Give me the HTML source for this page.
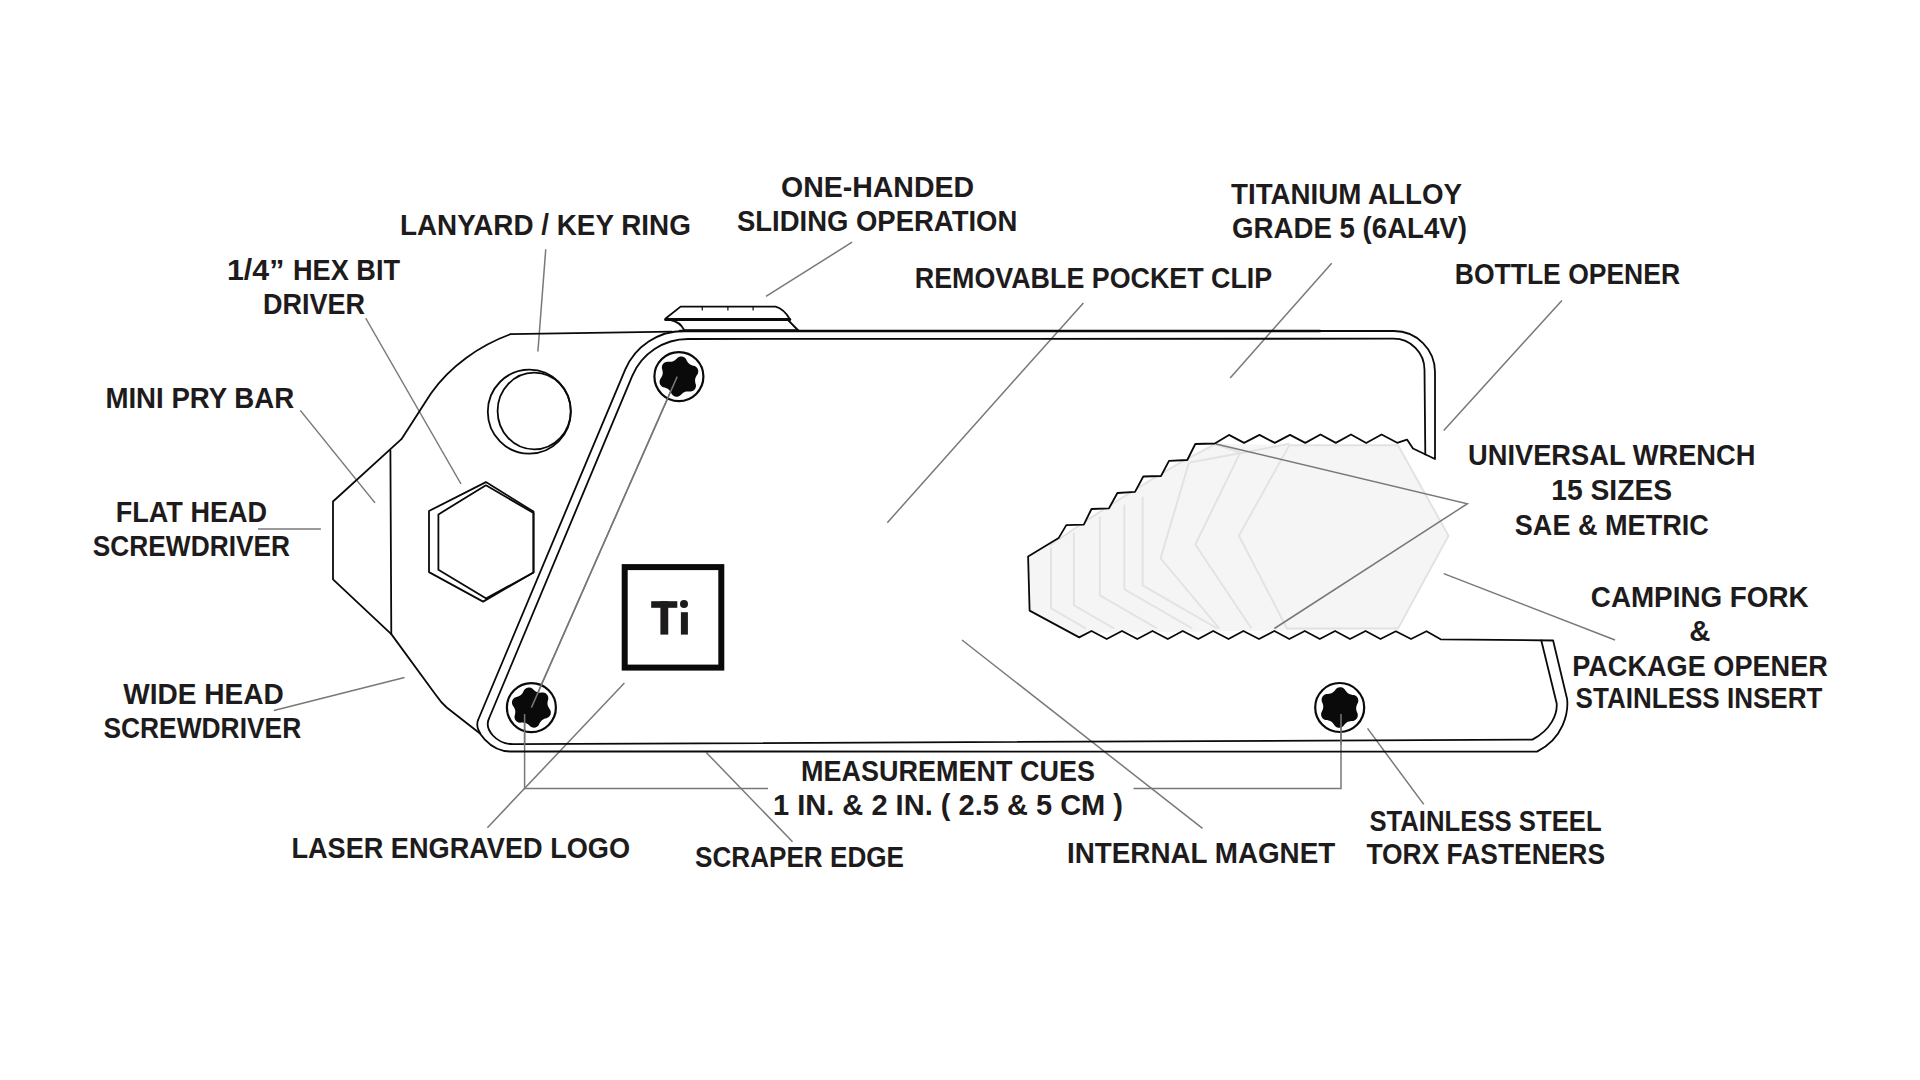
<!DOCTYPE html>
<html><head><meta charset="utf-8"><style>
html,body{margin:0;padding:0;background:#fff;width:1920px;height:1080px;overflow:hidden}
svg{display:block}
</style></head><body>
<svg width="1920" height="1080" viewBox="0 0 1920 1080">
<rect width="1920" height="1080" fill="#fff"/>
<defs><clipPath id="wc"><polygon points="1028.1,556.4 1058.6,538.1 1066.3,525.1 1083.8,524.6 1091.5,509 1109,508.3 1117.4,493 1135,491.9 1143.3,476.5 1161,476 1169,460.8 1187.3,460 1195.3,444 1214.8,443.5 1229,434.9 1244.1,442.9 1259.5,434.9 1274.8,442.9 1290,434.9 1305.3,442.9 1320.5,434.5 1335.8,442.9 1351,434.5 1366.2,443 1381.6,434.5 1397.2,442.8 1407,439.6 1413,448.5 1470,448.5 1470,639.3 1440.6,639.3 1426.5,631.2 1411,639 1395.8,631.3 1380.5,639 1365.6,631 1350,639 1335.1,631 1319.8,639 1304.8,631 1289.3,639 1274.4,631 1259,639 1243.4,631 1228.5,639 1213.2,631 1198.3,639 1182.7,631 1167.8,639 1152.5,631 1137.3,639 1122,631 1106.7,639 1091.5,631 1079.2,637.4 1029.6,610.6"/></clipPath></defs>
<g clip-path="url(#wc)">
<polygon points="1028.1,556.4 1049.4,545.7 1085,521.5 1120.8,498.5 1150,480.5 1180.4,462.5 1215.6,443.6 1289.3,445.2 1398,445.2 1448.5,535.7 1398,628.5 1300,630 1090,633 1079.2,637.4 1029.6,610.6" fill="#f5f5f5"/>
<g fill="none" stroke="#e2e2e2" stroke-width="1.9" stroke-linejoin="round">
<polyline points="1049.4,545.7 1085,521.5 1120.8,498.5 1150,480.5 1180.4,462.5 1215.6,443.8"/><polyline points="1051,547.2 1051,608.3 1086,628.5"/><polyline points="1073.9,532.7 1073.9,605.3 1114.1,628.5"/><polyline points="1099.9,516.7 1099.9,595.4 1157.3,628.5"/><polyline points="1124.3,504.4 1124.3,589.2 1192.4,628.5"/><polyline points="1142.6,496.8 1142.6,585.4 1217.3,628.5"/><polyline points="1189,462.6 1160.6,558.3 1219.4,628.5"/><polyline points="1240,453.2 1195.3,544.5 1251.5,628.5"/><polyline points="1189,462.6 1240,453.2 1289.3,443.8"/><polyline points="1214.4,444 1240,452.5"/>
<polygon points="1289.3,445.2 1398,445.2 1448.5,535.7 1398,628.5 1287,628.5 1238.9,535.7"/>
</g></g>
<g fill="none" stroke="#787878" stroke-width="1.5">
<polyline points="545.75,249.25 537.9,351.5"/><polyline points="852.1,242.2 766,296.4"/><polyline points="1083.4,302.9 887.3,522.7"/><polyline points="1331.7,263.3 1230.2,377.9"/><polyline points="1561.9,300.4 1443.75,430.6"/><polyline points="365.75,318.25 461,484"/><polyline points="300.3,410.4 375,502.9"/><polyline points="258,528.9 320.9,528.9"/><polyline points="273.9,710.6 404.5,677.5"/><polyline points="1216,444 1467.4,503.7 1274.4,628.5"/><polyline points="1443.75,573.6 1615,640"/><polyline points="962,640 1202.5,828.4"/><polyline points="706.25,752.5 792.5,841.75"/><polyline points="1367.5,728.4 1423.75,804.4"/><polyline points="677.2,376.6 531.3,707.5"/><polyline points="524.6,714 524.6,788.5 768,788.5"/><polyline points="1341,714 1341,788.5 1133.5,788.5"/><polyline points="624.4,683 487.4,827.7"/>
</g>
<g fill="none" stroke="#0a0a0a" stroke-width="1.8" stroke-linejoin="round" stroke-linecap="round">
<path d="M1435,372 L1435,459 L1413,448.5 L1407,439.6 L1397.2,442.8 L1381.6,434.5 L1366.2,443 L1351,434.5 L1335.8,442.9 L1320.5,434.5 L1305.3,442.9 L1290,434.9 L1274.8,442.9 L1259.5,434.9 L1244.1,442.9 L1229,434.9 L1214.8,443.5 L1195.3,444 L1187.3,460 L1169,460.8 L1161,476 L1143.3,476.5 L1135,491.9 L1117.4,493 L1109,508.3 L1091.5,509 L1083.8,524.6 L1066.3,525.1 L1058.6,538.1 L1028.1,556.4 L1029.6,610.6 L1079.2,637.4 L1091.5,631 L1106.7,639 L1122,631 L1137.3,639 L1152.5,631 L1167.8,639 L1182.7,631 L1198.3,639 L1213.2,631 L1228.5,639 L1243.4,631 L1259,639 L1274.4,631 L1289.3,639 L1304.8,631 L1319.8,639 L1335.1,631 L1350,639 L1365.6,631 L1380.5,639 L1395.8,631.3 L1411,639 L1426.5,631.2 L1440.6,639.3 L1553.1,640.5 L1567.1,699 C1568.5,712 1564,738 1537,751.6 L510,751.5 C490.85,751.5 472.64,730.7 478.3,719.5 L625.19,369.63 C635.18,346.23 658.24,331 683.68,331 L1394,331 C1416.63,331 1435,349.37 1435,372 Z"/>
<path d="M1425.3,454.4 L1424.5,369.7 L1424.5,369.7 C1424.5,352.59 1410.61,338.7 1393.5,338.7 L687.97,339 C663.74,339 641.77,353.51 632.26,375.79 L489.2,718 C483.5,729.7 496.75,744.2 513.3,744.2 L1532.4,739.6 C1551,730 1557.5,714 1556.7,703.5 L1541.3,640.5"/>
<path d="M680,331 L1320,331" stroke-width="2.6"/>
<path d="M672,331.6 L510.4,334.2 C479.4,345.5 449.8,366.4 430.9,393.4 L401.4,439.2 L333,501.5 L333,579.4 L391.3,634.1 L435.5,694.5 Q441.2,702.8 447,707.8 L480,733.5"/>
<path d="M390.4,450.5 L391.3,634.1"/>
<polygon points="485.9,482.1 533.5,511.6 533.5,572.5 483.1,601.6 429,572.1 429,511"/>
<polygon points="485.9,485.3 533.5,513 533.5,572.5 486.25,598.4 438.4,569.7 438.4,514.4"/>
<ellipse cx="529.3" cy="411.7" rx="41.5" ry="42"/>
<ellipse cx="534.2" cy="411" rx="36.6" ry="38.4"/>

<path d="M680.6,306.6 L775.6,306.6 Q784,309 789.75,319 M680.6,306.6 L665.6,318.5" />
<path d="M665.6,319.6 L789.75,319.6" stroke-width="3"/>
<path d="M670.6,320 Q680,322 683.75,329.4 M788,320 L798,330.25" />
<path d="M683.75,330.6 L798,330.6" stroke-width="2.6"/>
<path d="M702.25,306.6 V310 M727.9,306.6 V310 M753.1,306.6 V310" stroke-width="1.2"/>

<circle cx="678.9" cy="376.6" r="24.5" stroke-width="2.2"/>
<circle cx="531.4" cy="707.6" r="24.5" stroke-width="2.2"/>
<circle cx="1339.7" cy="707.5" r="24.5" stroke-width="2.2"/>
<rect x="624.7" y="567.1" width="96.6" height="100.5" stroke-width="6" stroke-linejoin="miter"/>
</g>
<g fill="#0a0a0a" stroke="none">
<path d="M696.03,376.6 L695.55,377.69 L695.23,378.75 L695.08,379.82 L695.08,380.94 L695.22,382.14 L695.49,383.47 L695.95,385.01 L695.94,386.44 L695.63,387.78 L695.03,388.98 L694.17,389.99 L693.07,390.77 L691.8,391.31 L690.37,391.55 L688.78,391.39 L687.46,391.43 L686.28,391.56 L685.2,391.82 L684.2,392.22 L683.24,392.78 L682.26,393.51 L681.24,394.4 L680.14,395.57 L678.9,396.27 L677.58,396.67 L676.25,396.76 L674.94,396.52 L673.71,395.96 L672.61,395.12 L671.69,394.01 L671.03,392.56 L670.34,391.43 L669.63,390.47 L668.87,389.67 L668.03,389 L667.05,388.45 L665.94,387.97 L664.65,387.53 L663.09,387.16 L661.86,386.44 L660.86,385.5 L660.12,384.38 L659.67,383.13 L659.54,381.79 L659.72,380.42 L660.22,379.06 L661.15,377.76 L661.77,376.6 L662.25,375.51 L662.57,374.45 L662.72,373.38 L662.72,372.26 L662.58,371.06 L662.31,369.73 L661.85,368.19 L661.86,366.76 L662.17,365.42 L662.77,364.22 L663.63,363.21 L664.73,362.43 L666,361.89 L667.43,361.65 L669.02,361.81 L670.34,361.77 L671.52,361.64 L672.6,361.38 L673.6,360.98 L674.56,360.42 L675.54,359.69 L676.56,358.8 L677.66,357.63 L678.9,356.93 L680.22,356.53 L681.55,356.44 L682.86,356.68 L684.09,357.24 L685.19,358.08 L686.11,359.19 L686.77,360.64 L687.46,361.77 L688.17,362.73 L688.93,363.53 L689.77,364.2 L690.75,364.75 L691.86,365.23 L693.15,365.67 L694.71,366.04 L695.94,366.76 L696.94,367.7 L697.68,368.82 L698.13,370.07 L698.26,371.41 L698.08,372.78 L697.58,374.14 L696.65,375.44 Z"/>
<path d="M548.68,707.6 L549.38,708.78 L550.3,710.09 L550.73,711.45 L550.85,712.81 L550.66,714.14 L550.15,715.37 L549.36,716.45 L548.3,717.36 L547.02,718.03 L545.47,718.4 L544.25,718.87 L543.18,719.38 L542.26,719.98 L541.45,720.69 L540.72,721.55 L540.04,722.56 L539.37,723.76 L538.69,725.21 L537.74,726.26 L536.61,727.05 L535.37,727.55 L534.05,727.72 L532.71,727.58 L531.4,727.12 L530.17,726.34 L529.08,725.19 L528.07,724.36 L527.09,723.69 L526.11,723.19 L525.08,722.85 L523.98,722.65 L522.76,722.56 L521.39,722.58 L519.8,722.72 L518.4,722.42 L517.16,721.84 L516.11,721.01 L515.3,719.96 L514.75,718.72 L514.5,717.36 L514.55,715.91 L515.01,714.39 L515.22,713.09 L515.31,711.91 L515.25,710.81 L515.04,709.75 L514.66,708.7 L514.12,707.6 L513.42,706.42 L512.5,705.11 L512.07,703.75 L511.95,702.39 L512.14,701.06 L512.65,699.83 L513.44,698.75 L514.5,697.84 L515.78,697.17 L517.33,696.8 L518.55,696.33 L519.62,695.82 L520.54,695.22 L521.35,694.51 L522.08,693.65 L522.76,692.64 L523.43,691.44 L524.11,689.99 L525.06,688.94 L526.19,688.15 L527.43,687.65 L528.75,687.48 L530.09,687.62 L531.4,688.08 L532.63,688.86 L533.72,690.01 L534.73,690.84 L535.71,691.51 L536.69,692.01 L537.72,692.35 L538.82,692.55 L540.04,692.64 L541.41,692.62 L543,692.48 L544.4,692.78 L545.64,693.36 L546.69,694.19 L547.5,695.24 L548.05,696.48 L548.3,697.84 L548.25,699.29 L547.79,700.81 L547.58,702.11 L547.49,703.29 L547.55,704.39 L547.76,705.45 L548.14,706.5 Z"/>
<path d="M1356.18,707.5 L1356.14,708.58 L1356.26,709.68 L1356.53,710.85 L1356.94,712.12 L1357.6,713.58 L1357.81,715 L1357.7,716.38 L1357.29,717.66 L1356.6,718.79 L1355.64,719.73 L1354.46,720.45 L1353.1,720.9 L1351.5,720.96 L1350.17,721.15 L1348.99,721.41 L1347.94,721.78 L1346.99,722.28 L1346.09,722.93 L1345.22,723.75 L1344.32,724.74 L1343.39,726.04 L1342.26,726.93 L1341.01,727.53 L1339.7,727.82 L1338.37,727.78 L1337.08,727.42 L1335.87,726.76 L1334.79,725.81 L1333.95,724.45 L1333.12,723.39 L1332.3,722.5 L1331.46,721.78 L1330.55,721.2 L1329.53,720.75 L1328.38,720.4 L1327.08,720.12 L1325.49,719.96 L1324.15,719.43 L1323.01,718.65 L1322.11,717.66 L1321.47,716.49 L1321.14,715.19 L1321.1,713.81 L1321.39,712.41 L1322.14,710.99 L1322.65,709.75 L1323.01,708.59 L1323.22,707.5 L1323.26,706.42 L1323.14,705.32 L1322.87,704.15 L1322.46,702.88 L1321.8,701.42 L1321.59,700 L1321.7,698.62 L1322.11,697.34 L1322.8,696.21 L1323.76,695.27 L1324.94,694.55 L1326.3,694.1 L1327.9,694.04 L1329.23,693.85 L1330.41,693.59 L1331.46,693.22 L1332.41,692.72 L1333.31,692.07 L1334.18,691.25 L1335.08,690.26 L1336.01,688.96 L1337.14,688.07 L1338.39,687.47 L1339.7,687.18 L1341.03,687.22 L1342.32,687.58 L1343.53,688.24 L1344.61,689.19 L1345.45,690.55 L1346.28,691.61 L1347.1,692.5 L1347.94,693.22 L1348.85,693.8 L1349.87,694.25 L1351.02,694.6 L1352.32,694.88 L1353.91,695.04 L1355.25,695.57 L1356.39,696.35 L1357.29,697.34 L1357.93,698.51 L1358.26,699.81 L1358.3,701.19 L1358.01,702.59 L1357.26,704.01 L1356.75,705.25 L1356.39,706.41 Z"/>
<rect x="651.2" y="601.2" width="26.1" height="6.6" fill="#1e1b1c"/>
<rect x="660.4" y="601.2" width="7.85" height="33.4" fill="#1e1b1c"/>
<rect x="680.9" y="612.2" width="7" height="22.4" fill="#1e1b1c"/>
<circle cx="684" cy="603.9" r="4" fill="#1e1b1c"/>
</g>
<g fill="none" stroke="#787878" stroke-width="1.5">
<polyline points="677.2,376.6 531.4,707.6"/>
<polyline points="524.6,714 524.6,745"/>
<polyline points="1341,714 1341,745"/>
</g>
<g font-family="Liberation Sans, sans-serif" font-weight="bold" fill="#1e1b1c">
<text x="400" y="235" font-size="29" textLength="290.84" lengthAdjust="spacingAndGlyphs">LANYARD / KEY RING</text>
<text x="781" y="196.7" font-size="29" textLength="193.03" lengthAdjust="spacingAndGlyphs">ONE-HANDED</text>
<text x="737" y="230.8" font-size="29" textLength="280.23" lengthAdjust="spacingAndGlyphs">SLIDING OPERATION</text>
<text x="1231" y="204" font-size="29" textLength="231" lengthAdjust="spacingAndGlyphs">TITANIUM ALLOY</text>
<text x="1232" y="237.5" font-size="29" textLength="235.02" lengthAdjust="spacingAndGlyphs">GRADE 5 (6AL4V)</text>
<text x="914.8" y="287.5" font-size="29" textLength="357.43" lengthAdjust="spacingAndGlyphs">REMOVABLE POCKET CLIP</text>
<text x="1454.8" y="284.2" font-size="29" textLength="225.25" lengthAdjust="spacingAndGlyphs">BOTTLE OPENER</text>
<text x="227" y="280" font-size="29" textLength="57.35" lengthAdjust="spacingAndGlyphs">1/4”</text>
<text x="293" y="280" font-size="29" textLength="107.06" lengthAdjust="spacingAndGlyphs">HEX BIT</text>
<text x="263" y="313.75" font-size="29" textLength="102.09" lengthAdjust="spacingAndGlyphs">DRIVER</text>
<text x="105.4" y="407.9" font-size="29" textLength="188.83" lengthAdjust="spacingAndGlyphs">MINI PRY BAR</text>
<text x="115.8" y="522.4" font-size="29" textLength="151.25" lengthAdjust="spacingAndGlyphs">FLAT HEAD</text>
<text x="92.8" y="556" font-size="29" textLength="197.22" lengthAdjust="spacingAndGlyphs">SCREWDRIVER</text>
<text x="123.2" y="704" font-size="29" textLength="160.61" lengthAdjust="spacingAndGlyphs">WIDE HEAD</text>
<text x="103.4" y="737.6" font-size="29" textLength="197.82" lengthAdjust="spacingAndGlyphs">SCREWDRIVER</text>
<text x="1468" y="464.9" font-size="29" textLength="287.44" lengthAdjust="spacingAndGlyphs">UNIVERSAL WRENCH</text>
<text x="1551.2" y="500.4" font-size="29" textLength="120.89" lengthAdjust="spacingAndGlyphs">15 SIZES</text>
<text x="1514.8" y="535.3" font-size="29" textLength="194.03" lengthAdjust="spacingAndGlyphs">SAE &amp; METRIC</text>
<text x="1590.8" y="607.2" font-size="29" textLength="217.82" lengthAdjust="spacingAndGlyphs">CAMPING FORK</text>
<text x="1689.2" y="640.8" font-size="29" textLength="21.17" lengthAdjust="spacingAndGlyphs">&amp;</text>
<text x="1572.2" y="675.7" font-size="29" textLength="255.64" lengthAdjust="spacingAndGlyphs">PACKAGE OPENER</text>
<text x="1575.6" y="708" font-size="29" textLength="246.81" lengthAdjust="spacingAndGlyphs">STAINLESS INSERT</text>
<text x="291.4" y="858.3" font-size="29" textLength="338.63" lengthAdjust="spacingAndGlyphs">LASER ENGRAVED LOGO</text>
<text x="801" y="780.75" font-size="29" textLength="294.02" lengthAdjust="spacingAndGlyphs">MEASUREMENT CUES</text>
<text x="773" y="815" font-size="29" textLength="350.04" lengthAdjust="spacingAndGlyphs">1 IN. &amp; 2 IN. ( 2.5 &amp; 5 CM )</text>
<text x="695" y="866.75" font-size="29" textLength="209.03" lengthAdjust="spacingAndGlyphs">SCRAPER EDGE</text>
<text x="1067" y="862.8" font-size="29" textLength="268.22" lengthAdjust="spacingAndGlyphs">INTERNAL MAGNET</text>
<text x="1369.4" y="831" font-size="29" textLength="232.22" lengthAdjust="spacingAndGlyphs">STAINLESS STEEL</text>
<text x="1366.4" y="863.75" font-size="29" textLength="238.61" lengthAdjust="spacingAndGlyphs">TORX FASTENERS</text>
</g>
</svg>
</body></html>
